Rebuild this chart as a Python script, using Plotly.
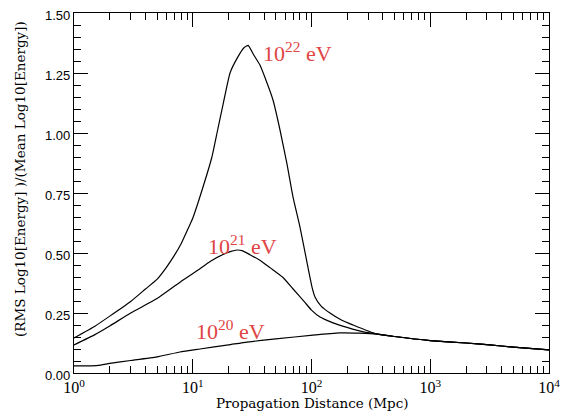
import math
import plotly.graph_objects as go

# ---- data ----
dist_22 = [1, 1.5, 2, 3, 4, 5, 6, 7, 8, 9.1, 10, 12.2, 14.5, 16, 17.6, 20.6, 24, 27, 29.3, 32.2, 36.8, 41, 47.4, 54.3, 62.2, 69.9, 80, 93.4, 101, 107, 120, 143, 180, 224, 300, 360, 500, 1000, 2000, 3162, 5000, 10000]
rms_22 = [0.146, 0.195, 0.237, 0.298, 0.35, 0.39, 0.44, 0.49, 0.54, 0.60, 0.645, 0.775, 0.90, 1.0, 1.096, 1.25, 1.317, 1.355, 1.365, 1.33, 1.283, 1.225, 1.1375, 1.0125, 0.87, 0.733, 0.608, 0.44, 0.358, 0.317, 0.28, 0.25, 0.22, 0.20, 0.175, 0.162, 0.152, 0.135, 0.125, 0.117, 0.108, 0.096]

dist_21 = [1, 1.5, 2, 3, 5, 8.3, 11, 14, 18, 21, 23.6, 26, 30.3, 36.8, 45, 57.6, 70, 88, 100, 118, 150, 199, 280, 360, 500, 1000, 2000, 3162, 5000, 10000]
rms_21 = [0.117, 0.16, 0.196, 0.25, 0.31, 0.3875, 0.428, 0.465, 0.494, 0.507, 0.5125, 0.51, 0.493, 0.47, 0.438, 0.398, 0.35, 0.294, 0.262, 0.233, 0.21, 0.19, 0.17, 0.162, 0.152, 0.135, 0.125, 0.117, 0.108, 0.096]

dist_20 = [1, 1.3, 1.6, 2, 3, 5, 7.8, 11.5, 20, 28.6, 50, 103, 173, 250, 360, 500, 1000, 2000, 3162, 5000, 10000]
rms_20 = [0.03, 0.03, 0.032, 0.04, 0.052, 0.067, 0.0875, 0.1, 0.117, 0.129, 0.142, 0.158, 0.167, 0.166, 0.162, 0.152, 0.135, 0.125, 0.117, 0.108, 0.096]

series_labels = ["10<sup>22</sup> eV", "10<sup>21</sup> eV", "10<sup>20</sup> eV"]
label_pos = [(37.5, 1.3375), (13.0, 0.533), (10.2, 0.179)]

x_tickvals = [1, 10, 100, 1000, 10000]
x_ticktext = ["10<sup>0</sup>", "10<sup>1</sup>", "10<sup>2</sup>", "10<sup>3</sup>", "10<sup>4</sup>"]
x_minor = [m * 10 ** d for d in range(4) for m in range(2, 10)]

x_title = "Propagation Distance (Mpc)"
y_title = "(RMS Log10[Energy] )/(Mean Log10[Energy])"

fig = go.Figure()
for xs, ys in [(dist_22, rms_22), (dist_21, rms_21), (dist_20, rms_20)]:
    fig.add_trace(go.Scatter(x=xs, y=ys, mode="lines",
                             line=dict(color="black", width=1.2, shape="spline", smoothing=0.4),
                             showlegend=False, hoverinfo="skip"))

for txt, (lx, ly) in zip(series_labels, label_pos):
    fig.add_annotation(x=math.log10(lx), y=ly, xref="x", yref="y", text=txt,
                       showarrow=False, xanchor="left", yanchor="middle",
                       font=dict(family="Liberation Serif", size=22, color="#e04444"))

# plot area 475 x 360 px
fig.add_annotation(x=(312 - 74) / 475, y=-(403 - 373) / 360, xref="paper", yref="paper",
                   text=x_title, showarrow=False, xanchor="center", yanchor="middle",
                   font=dict(family="DejaVu Serif", size=13.5, color="black"))
fig.add_annotation(x=-(74 - 20) / 475, y=(373 - 179) / 360, xref="paper", yref="paper",
                   text=y_title, textangle=-90, showarrow=False, xanchor="center", yanchor="middle",
                   font=dict(family="DejaVu Serif", size=13.5, color="black"))

fig.update_layout(
    width=570, height=407,
    margin=dict(l=66, r=29, t=5, b=42, autoexpand=False),
    plot_bgcolor="white", paper_bgcolor="white",
    xaxis=dict(type="log", range=[0, 4], tickmode="array", tickvals=x_tickvals, ticktext=x_ticktext,
               ticks="inside", ticklen=14, tickwidth=1, tickcolor="black",
               showline=True, linecolor="black", linewidth=1.2, mirror="ticks",
               showgrid=False, zeroline=False, automargin=False, ticklabeloverflow="allow",
               tickfont=dict(family="Liberation Serif", size=16, color="black"),
               minor=dict(tickmode="array", tickvals=x_minor, ticks="inside", ticklen=7,
                          tickcolor="black", tickwidth=1, showgrid=False)),
    yaxis=dict(range=[0, 1.5], tickmode="linear", tick0=0, dtick=0.25, tickformat=".2f",
               ticks="inside", ticklen=14, tickwidth=1, tickcolor="black",
               showline=True, linecolor="black", linewidth=1.2, mirror="ticks",
               showgrid=False, zeroline=False, automargin=False, ticklabeloverflow="allow",
               ticklabelshift=2,
               tickfont=dict(family="Liberation Sans", size=13, color="black"),
               minor=dict(tickmode="linear", tick0=0, dtick=0.05, ticks="inside", ticklen=7,
                          tickcolor="black", tickwidth=1, showgrid=False)),
)

fig.write_html("out.html")
